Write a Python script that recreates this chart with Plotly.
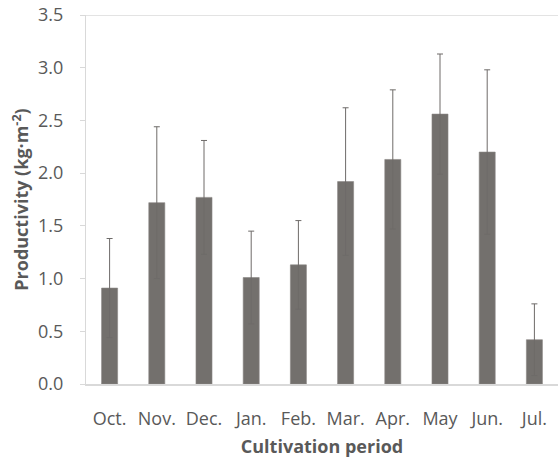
import plotly.graph_objects as go

# Monthly productivity over the cultivation period (mean ± SD)
months = ["Oct.", "Nov.", "Dec.", "Jan.", "Feb.", "Mar.", "Apr.", "May", "Jun.", "Jul."]
productivity = [0.91, 1.72, 1.77, 1.01, 1.13, 1.92, 2.13, 2.56, 2.20, 0.42]
std_dev = [0.47, 0.72, 0.54, 0.44, 0.42, 0.70, 0.66, 0.57, 0.78, 0.34]
y_ticks = [0.0, 0.5, 1.0, 1.5, 2.0, 2.5, 3.0, 3.5]

FONT = "Open Sans"
TEXT = "#595959"
AXIS = "#d9d9d9"

fig = go.Figure(
    go.Bar(
        x=months,
        y=productivity,
        error_y=dict(type="data", array=std_dev, visible=True,
                     color="#6e6b69", thickness=1, width=3),
        marker=dict(color="#73706d", line=dict(color="#8a8785", width=0.6)),
        width=0.34,
    )
)

fig.update_layout(
    width=558,
    height=463,
    margin=dict(l=86, r=0, t=15, b=79),
    plot_bgcolor="white",
    paper_bgcolor="white",
    showlegend=False,
    font=dict(family=FONT, color=TEXT, size=18),
)

fig.update_xaxes(
    range=[-0.5, 9.5],
    showgrid=False,
    showline=True,
    linecolor=AXIS,
    linewidth=2,
    ticks="",
    tickfont=dict(family=FONT, size=18, color=TEXT),
    ticklabelstandoff=17,
    title=dict(text="<b>Cultivation period</b>", standoff=12,
               font=dict(family=FONT, size=18, color=TEXT)),
)

fig.update_yaxes(
    range=[0, 3.5],
    tickvals=y_ticks,
    ticktext=[f"{v:.1f}" for v in y_ticks],
    showgrid=False,
    showline=True,
    mirror=False,
    linecolor=AXIS,
    linewidth=1,
    ticks="outside",
    ticklen=5,
    tickcolor=AXIS,
    tickfont=dict(family=FONT, size=18, color=TEXT),
    ticklabelstandoff=13,
    title=dict(text="<b>Productivity (kg·m<sup>-2</sup>)</b>", standoff=4,
               font=dict(family=FONT, size=18, color=TEXT)),
    zeroline=False,
)

# Top border of the plotting area
fig.add_shape(type="line", xref="paper", yref="y", x0=0, x1=1, y0=3.5, y1=3.5,
              line=dict(color="#c8c8c8", width=1))

fig.write_html("out.html")
